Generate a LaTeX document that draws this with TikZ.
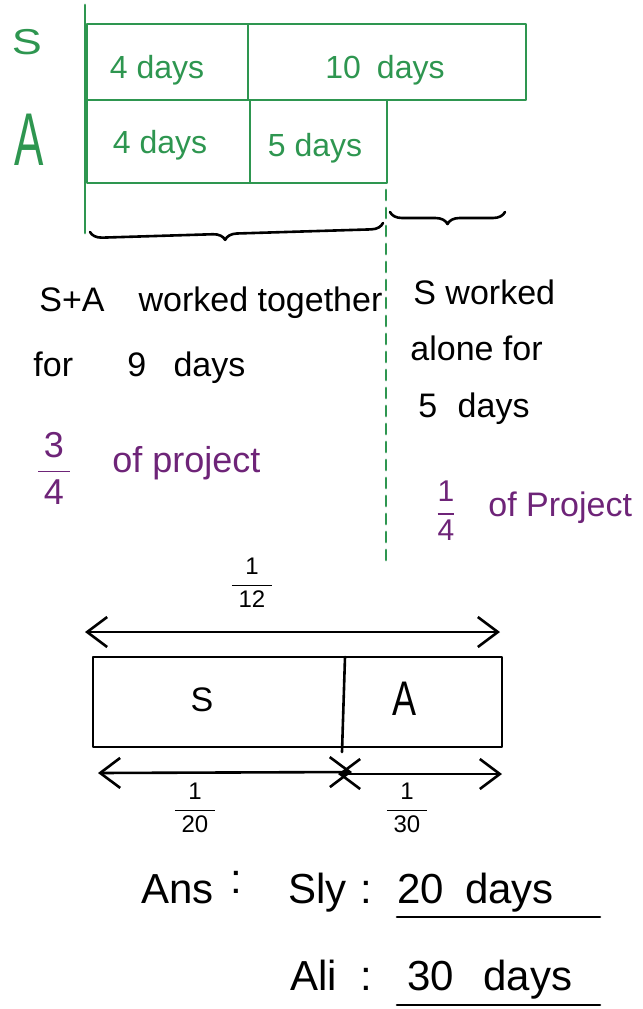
\documentclass[tikz,border=0pt]{standalone}
\usepackage{amsmath, amssymb}
\usepackage{fontspec}
\setmainfont{Liberation Sans}
\usetikzlibrary{calc, arrows.meta, positioning, decorations.pathreplacing}

\definecolor{inkgreen}{RGB}{46,150,80}
\definecolor{inkpurple}{RGB}{110,36,120}

\begin{document}
\begin{tikzpicture}[x=0.5pt, y=-0.5pt, >={Straight Barb[length=10pt, width=15pt]},
    line cap=round, line join=round,
    greenline/.style={draw=inkgreen, line width=1.4pt},
    greentext/.style={text=inkgreen, font=\fontsize{16}{19}\selectfont},
    note/.style={font=\fontsize{17}{20}\selectfont, anchor=base west, inner sep=0pt},
    purplenote/.style={note, text=inkpurple, font=\fontsize{18}{21}\selectfont},
    inkline/.style={line width=1.3pt},
    ratefrac/.style={font=\fontsize{12}{14}\selectfont},
    answer/.style={font=\fontsize{21}{25}\selectfont, anchor=base west, inner sep=0pt}]

    \useasboundingbox (0,0) rectangle (643,1009);

    % ==========================================
    % PANEL 1: Days worked by S and A
    % ==========================================
    \draw[greenline] (85,5) -- (85,233);
    \node[greentext, font=\fontsize{18}{21}\selectfont, xscale=1.25] (rowS) at (27,42) {S};
    \node[greentext, font=\fontsize{22}{26}\selectfont, yscale=1.7] (rowA) at (29,140) {A};

    % Bars (S on top, A below)
    \draw[greenline] (87,24) rectangle (248,100);
    \draw[greenline] (248,24) rectangle (526,100);
    \draw[greenline] (87,100) rectangle (250,183);
    \draw[greenline] (250,100) rectangle (387,183);

    \node[greentext] (sFour) at (157,70) {4 days};
    \node[greentext] (sTen) at (385,70) {10\hspace{0.5em}days};
    \node[greentext] (aFour) at (160,145) {4 days};
    \node[greentext] (aFive) at (315,148) {5 days};

    % Split where A stops
    \coordinate (splitTop) at (386,190);
    \coordinate (splitBot) at (386,560);
    \draw[greenline, dash pattern=on 5pt off 4pt] (splitTop) -- (splitBot);

    % Braces under the two periods
    \coordinate (togetherL) at (90,232);
    \coordinate (togetherR) at (383,223);
    \draw[inkline, decorate, decoration={brace, mirror, amplitude=6pt, aspect=0.46}] (togetherL) -- (togetherR);
    \coordinate (aloneL) at (390,212);
    \coordinate (aloneR) at (505,212);
    \draw[inkline, decorate, decoration={brace, mirror, amplitude=6pt, aspect=0.5}] (aloneL) -- (aloneR);

    % ==========================================
    % PANEL 2: Notes on each period
    % ==========================================
    \node[note] (together1) at (39,311) {S+A\hspace{1em}worked together};
    \node[note] (together2) at (33,376) {for\hspace{1.6em}9\hspace{0.8em}days};
    \node[note] (alone1) at (413,304) {S worked};
    \node[note] (alone2) at (410,360) {alone for};
    \node[note] (alone3) at (418,417) {5\hspace{0.6em}days};

    \node[text=inkpurple, font=\fontsize{18}{21}\selectfont] (fracThree) at (54,468) {$\dfrac{\,\text{3}\,}{\,\text{4}\,}$};
    \node[purplenote] (projLeft) at (112,472) {of project};
    \node[text=inkpurple, font=\fontsize{15}{18}\selectfont] (fracOne) at (446,511) {$\dfrac{\text{1}}{\text{4}}$};
    \node[purplenote, font=\fontsize{17}{20}\selectfont] (projRight) at (488,516) {of Project};

    % ==========================================
    % PANEL 3: Daily rates
    % ==========================================
    \node[ratefrac] (rateAll) at (252,583) {$\dfrac{\text{1}}{\;\text{12}\;}$};
    \coordinate (allL) at (85,632);
    \coordinate (allR) at (500,632);
    \draw[inkline, <->] (allL) -- (allR);

    \draw[inkline] (93,657) rectangle (502,747);
    \draw[inkline] (345,657) -- (342,752);
    \node[font=\fontsize{17}{20}\selectfont] (barS) at (202,700) {S};
    \node[font=\fontsize{18}{21}\selectfont, yscale=1.35] (barA) at (405,699) {A};

    \coordinate (slyL) at (98,773);
    \coordinate (slyR) at (352,772);
    \coordinate (aliL) at (338,774);
    \coordinate (aliR) at (502,774);
    \draw[inkline, <->] (slyL) -- (slyR);
    \draw[inkline, <->] (aliL) -- (aliR);
    \node[ratefrac] (rateSly) at (195,808) {$\dfrac{\text{1}}{\;\text{20}\;}$};
    \node[ratefrac] (rateAli) at (407,808) {$\dfrac{\text{1}}{\;\text{30}\;}$};

    % ==========================================
    % ANSWER
    % ==========================================
    \node[answer] (ans) at (141,903) {Ans};
    \node[answer] (ansColon) at (230,893) {:};
    \node[answer] (sly) at (288,903) {Sly};
    \node[answer] (slyColon) at (360,903) {:};
    \node[answer] (slyDays) at (397,903) {20\hspace{0.5em}days};
    \coordinate (slyLineL) at (397,917);
    \coordinate (slyLineR) at (600,917);
    \draw[inkline] (slyLineL) -- (slyLineR);

    \node[answer] (ali) at (290,990) {Ali};
    \node[answer] (aliColon) at (360,990) {:};
    \node[answer] (aliDays) at (407,990) {30\hspace{0.7em}days};
    \coordinate (aliLineL) at (397,1005);
    \coordinate (aliLineR) at (600,1005);
    \draw[inkline] (aliLineL) -- (aliLineR);

\end{tikzpicture}
\end{document}
